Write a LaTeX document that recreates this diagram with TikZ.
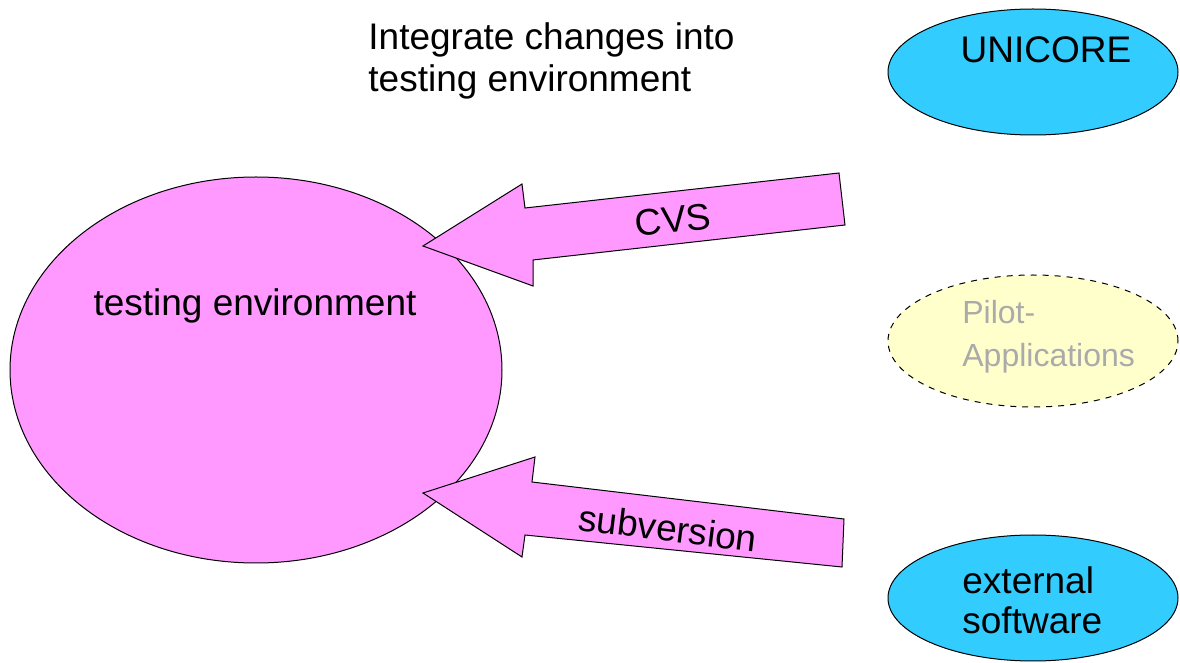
\documentclass[tikz,border=0pt]{standalone}
\usepackage{fontspec}
\setmainfont{Liberation Sans}
\usetikzlibrary{shapes.geometric}
\definecolor{envpink}{RGB}{255,153,255}
\definecolor{repoblue}{RGB}{51,204,255}
\definecolor{pilotyellow}{RGB}{255,255,204}
\definecolor{pilotgrey}{RGB}{170,170,170}
\tikzset{
  blob/.style={draw,ellipse,line width=0.5pt,inner sep=0pt},
  fatarrow/.style={draw,fill=envpink,line width=0.5pt,line join=miter},
  txt/.style={inner sep=0pt,align=left}
}
\begin{document}
\begin{tikzpicture}[x=0.5pt,y=-0.5pt,every node/.append style={font=\fontsize{18.5}{21}\selectfont}]
      \useasboundingbox (0,0) rectangle (1180,663);

      \node[blob,fill=envpink,minimum width=246pt,minimum height=193pt] (Env) at (256,370) {};
      \node[txt] (EnvText) at (255,306) {testing environment};

      \node[txt,anchor=west] (Task) at (368,61) {Integrate changes into\\testing environment};

      \node[blob,fill=repoblue,minimum width=145pt,minimum height=63pt] (Unicore) at (1033,72) {};
      \node[txt] (UnicoreText) at (1046,50) {UNICORE};

      \node[blob,dashed,fill=pilotyellow,minimum width=145pt,minimum height=66pt] (Pilot) at (1033,341) {};
      \node[txt,anchor=west,text=pilotgrey,font=\fontsize{16}{21.5}\selectfont] (PilotText) at (962,337) {Pilot-\\Applications};

      \node[blob,fill=repoblue,minimum width=145pt,minimum height=63pt] (External) at (1033,598) {};
      \node[txt,anchor=west,font=\fontsize{18.5}{20}\selectfont] (ExternalText) at (962,600) {external\\software};

      % CVS
      \draw[fatarrow] (423,246) -- (522,184) -- (525,208) -- (839,173) -- (845,225) -- (533,260) -- (533,286) -- cycle;
      \node[txt,rotate=6.4] (Cvs) at (673,220) {CVS};

      % subversion
      \draw[fatarrow] (423,493) -- (535,457) -- (532,482) -- (844,519) -- (842,567) -- (525,535) -- (522,557) -- cycle;
      \node[txt,rotate=-7] (Svn) at (668,528) {subversion};
    \end{tikzpicture}
\end{document}
